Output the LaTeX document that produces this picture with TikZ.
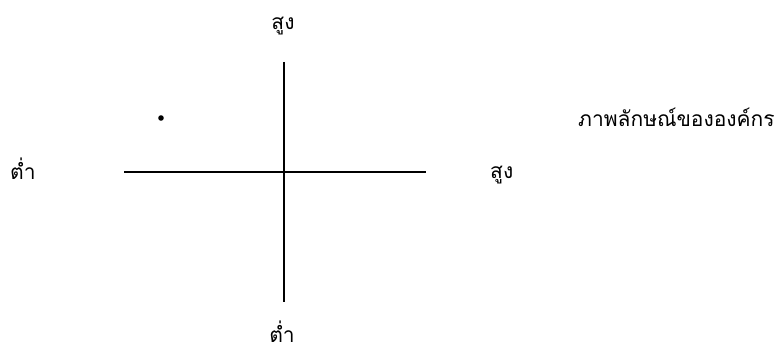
\documentclass[tikz,border=0pt]{standalone}
\usepackage{fontspec}
\newfontfamily\thaifont[Script=Thai]{Loma}
\begin{document}
\begin{tikzpicture}[x=1pt,y=-1pt,
  lbl/.style={font=\thaifont\fontsize{21}{24}\selectfont, inner sep=0pt},
  axis/.style={line width=1.5pt}]
\useasboundingbox (0,0) rectangle (778,352);
\coordinate (vt) at (284,62);
\coordinate (vb) at (284,302);
\coordinate (hl) at (124,172);
\coordinate (hr) at (426,172);
\draw[axis] (vt) -- (vb);
\draw[axis] (hl) -- (hr);
\fill (161,118) circle (2.8pt);
\node[lbl, anchor=base] (top) at (283,30) {สูง};
\node[lbl, anchor=base west] (left) at (10,180) {ต่ำ};
\node[lbl, anchor=base west] (right) at (490,179) {สูง};
\node[lbl, anchor=base] (bot) at (282,342) {ต่ำ};
\node[lbl, anchor=base west] (title) at (578,127) {ภาพลักษณ์ขององค์กร};
\end{tikzpicture}
\end{document}
